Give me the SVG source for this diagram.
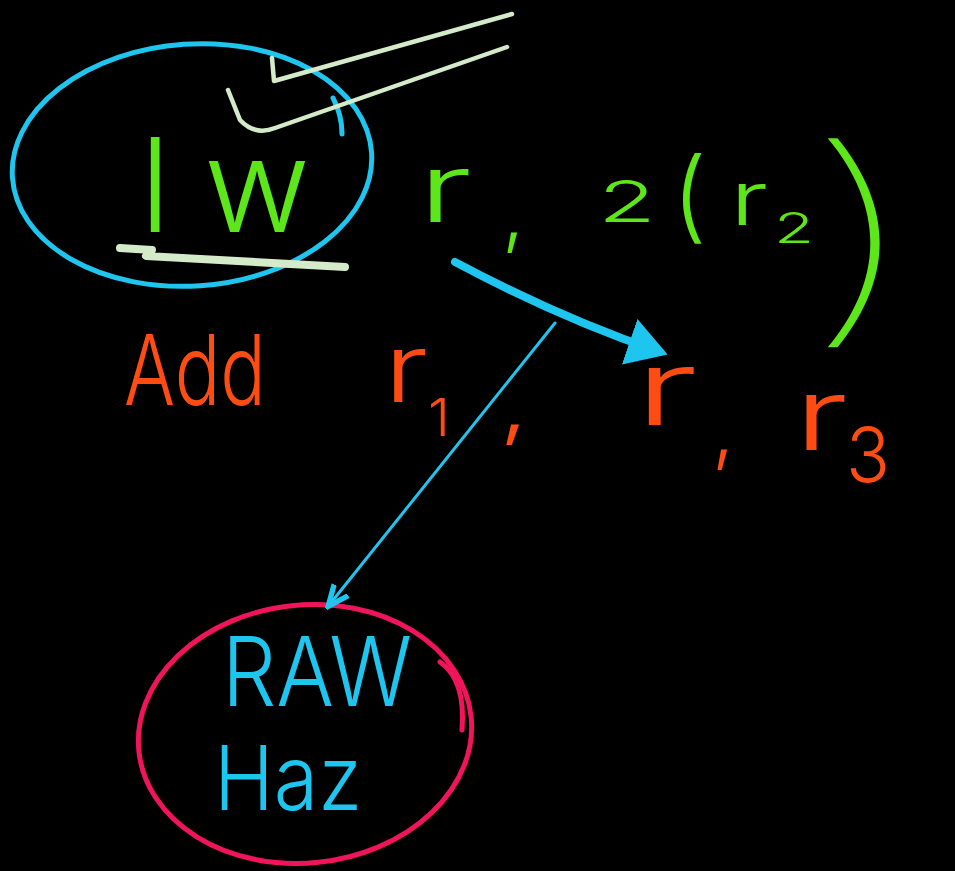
<svg xmlns="http://www.w3.org/2000/svg" width="955" height="871" viewBox="0 0 955 871">
<defs>
<style>
.t{font-family:Inter,"Liberation Sans","DejaVu Sans",sans-serif;font-weight:300;}
.thin{font-weight:100;}
.g{fill:#5de619;}
.o{fill:#ff4c12;}
.b{fill:#1ec5ee;}
.ln{fill:none;stroke-linecap:round;stroke-linejoin:round;}
.chalk{stroke:#d4ebc9;}
</style>
<marker id="headBig" markerWidth="6" markerHeight="6" refX="4" refY="3" orient="auto" markerUnits="strokeWidth">
<path d="M0,0 L5,3 L0,6 Z" fill="#1ec5ee"/>
</marker>
<marker id="headSmall" markerWidth="8" markerHeight="8" refX="6" refY="4" orient="auto" markerUnits="strokeWidth">
<path d="M0,1 L7,4 L0,7" fill="none" stroke="#1ec5ee" stroke-width="1.8"/>
</marker>
</defs>
<rect width="955" height="871" fill="#000"/>

<g id="node-lw">
<ellipse cx="192" cy="165" rx="180" ry="121" transform="rotate(-4 192 165)" fill="none" stroke="#1ec5ee" stroke-width="5"/>
<path class="ln" d="M 333,98 Q 342,115 342,134" stroke="#1ec5ee" stroke-width="5"/>
<text class="t g" x="140" y="232" font-size="130" textLength="170" lengthAdjust="spacing">lw</text>
<path class="ln chalk" d="M 120,248 L 152,250 L 146,256 L 345,267" stroke-width="8"/>
<path class="ln chalk" d="M 512,14 L 274,81 L 272,58" stroke-width="4.5"/>
<path class="ln chalk" d="M 507,47 L 275,128 Q 255,136 240,120 L 228,90" stroke-width="4.5"/>
</g>

<g id="node-operands-lw">
<text class="t g" x="418" y="222" font-size="95" textLength="54" lengthAdjust="spacingAndGlyphs">r</text>
<text class="t g" x="502" y="240" font-size="80">,</text>
<text class="t g" x="598" y="222" font-size="58" textLength="58" lengthAdjust="spacingAndGlyphs">2</text>
<text class="t g" x="672" y="230" font-size="100">(</text>
<text class="t g" x="730" y="225" font-size="75" textLength="38" lengthAdjust="spacingAndGlyphs">r</text>
<text class="t g" x="774" y="243" font-size="42" textLength="40" lengthAdjust="spacingAndGlyphs">2</text>
<text class="t g thin" transform="translate(800,316) scale(4,2.3)" font-size="100">)</text>
</g>

<g id="node-add">
<text class="t o" x="124" y="405" font-size="98" textLength="142" lengthAdjust="spacingAndGlyphs">Add</text>
<text class="t o" x="384" y="402" font-size="95" textLength="44" lengthAdjust="spacingAndGlyphs">r</text>
<text class="t o" x="428" y="436" font-size="52" textLength="22" lengthAdjust="spacingAndGlyphs">1</text>
<text class="t o" x="499" y="432" font-size="80" textLength="30" lengthAdjust="spacingAndGlyphs">,</text>
<text class="t o" x="634" y="425" font-size="104" textLength="64" lengthAdjust="spacingAndGlyphs">r</text>
<text class="t o" x="712" y="457" font-size="80">,</text>
<text class="t o" x="794" y="450" font-size="100" textLength="54" lengthAdjust="spacingAndGlyphs">r</text>
<text class="t o" x="846" y="482" font-size="76" textLength="44" lengthAdjust="spacingAndGlyphs">3</text>
</g>

<g id="node-raw">
<ellipse cx="305" cy="734" rx="167" ry="129" transform="rotate(-6 305 734)" fill="none" stroke="#f0145a" stroke-width="5"/>
<path class="ln" d="M 440,662 Q 466,680 462,730" stroke="#f0145a" stroke-width="5"/>
<text class="t b" x="222" y="706" font-size="96" textLength="190" lengthAdjust="spacingAndGlyphs">RAW</text>
<text class="t b" x="214" y="810" font-size="90" textLength="148" lengthAdjust="spacingAndGlyphs">Haz</text>
</g>

<g id="connectors">
<path class="ln" d="M 455,262 Q 560,318 660,352" stroke="#1ec5ee" stroke-width="8" marker-end="url(#headBig)"/>
<path class="ln" d="M 555,323 L 330,604" stroke="#1ec5ee" stroke-width="3" marker-end="url(#headSmall)"/>
</g>
</svg>
